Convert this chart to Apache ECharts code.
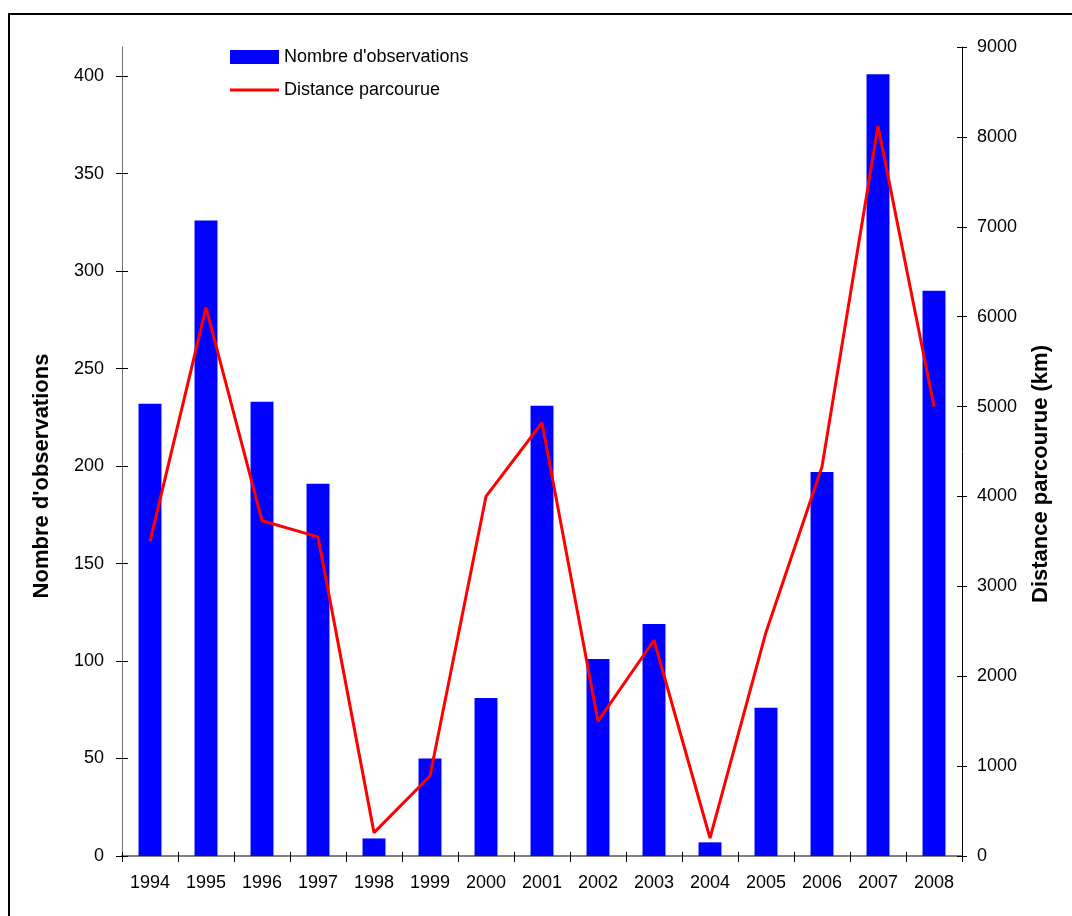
<!DOCTYPE html>
<html>
<head>
<meta charset="utf-8">
<script src="https://cdn.jsdelivr.net/npm/echarts@6/dist/echarts.min.js"></script>
<style>
  html, body { margin: 0; padding: 0; background: #fff; }
  #chart { width: 1072px; height: 916px; }
</style>
</head>
<body>
<div id="chart"></div>
<script>
// Yearly observations (bars, left axis) and distance travelled in km (line, right axis)
const years = ['1994', '1995', '1996', '1997', '1998', '1999', '2000', '2001',
               '2002', '2003', '2004', '2005', '2006', '2007', '2008'];
const observations = [232, 326, 233, 191, 9, 50, 81, 231, 101, 119, 7, 76, 197, 401, 290];
const distanceKm = [3500, 6100, 3730, 3550, 260, 890, 4000, 4820, 1500, 2400, 200, 2490, 4330, 8120, 5000];
const leftTicks = [0, 50, 100, 150, 200, 250, 300, 350, 400];

const FONT = '"Liberation Sans", Arial, sans-serif';
const chart = echarts.init(document.getElementById('chart'), null, { renderer: 'canvas' });

const leftMax = 415;
const rightMax = 9000;

chart.setOption({
  animation: false,
  backgroundColor: '#ffffff',
  textStyle: { fontFamily: FONT },
  grid: { left: 122, right: 110, top: 47, bottom: 60, containLabel: false },
  legend: {
    orient: 'vertical',
    left: 230,
    top: 48,
    padding: 0,
    itemWidth: 49,
    itemHeight: 14,
    itemGap: 15,
    textStyle: { fontFamily: FONT, fontSize: 18, color: '#000' },
    data: [
      { name: "Nombre d'observations", icon: 'rect' },
      // a plain 3px stroke for the line entry
      { name: 'Distance parcourue', icon: 'path://M0,0 H49 V3 H0 Z' }
    ]
  },
  xAxis: [
    {
      type: 'category',
      data: years,
      boundaryGap: true,
      axisLine: { lineStyle: { color: '#808080', width: 2 } },
      axisTick: { show: true, inside: false, length: 6, lineStyle: { color: '#000' } },
      axisLabel: { fontFamily: FONT, fontSize: 18, color: '#000', margin: 18, interval: 0 },
      splitLine: { show: false }
    },
    {
      // companion axis: the inner half of the crossing ticks
      type: 'category',
      data: years,
      position: 'bottom',
      boundaryGap: true,
      axisLine: { show: false },
      axisTick: { show: true, inside: true, length: 4, lineStyle: { color: '#000' } },
      axisLabel: { show: false },
      splitLine: { show: false }
    }
  ],
  yAxis: [
    {
      type: 'value',
      position: 'left',
      min: 0,
      max: leftMax,
      interval: 50,
      axisLine: { show: true, lineStyle: { color: '#707070', width: 1 } },
      axisTick: { show: true, length: 6, customValues: leftTicks, lineStyle: { color: '#000' } },
      axisLabel: { fontFamily: FONT, fontSize: 18, color: '#000', margin: 18, customValues: leftTicks },
      splitLine: { show: false }
    },
    {
      type: 'value',
      position: 'right',
      min: 0,
      max: rightMax,
      interval: 1000,
      axisLine: { show: true, lineStyle: { color: '#000', width: 1 } },
      axisTick: { show: true, length: 5, lineStyle: { color: '#000' } },
      axisLabel: {
        fontFamily: FONT, fontSize: 18, color: '#000', margin: 15,
        formatter: (v) => String(v)
      },
      splitLine: { show: false }
    },
    {
      type: 'value',
      position: 'left',
      min: 0,
      max: leftMax,
      interval: 50,
      axisLine: { show: false },
      axisTick: { show: true, inside: true, length: 6, customValues: leftTicks, lineStyle: { color: '#000' } },
      axisLabel: { show: false },
      splitLine: { show: false }
    },
    {
      type: 'value',
      position: 'right',
      min: 0,
      max: rightMax,
      interval: 1000,
      axisLine: { show: false },
      axisTick: { show: true, inside: true, length: 5, lineStyle: { color: '#000' } },
      axisLabel: { show: false },
      splitLine: { show: false }
    }
  ],
  series: [
    {
      name: "Nombre d'observations",
      type: 'bar',
      xAxisIndex: 0,
      yAxisIndex: 0,
      data: observations,
      barWidth: '41%',
      itemStyle: { color: '#0000ff' },
      z: 2
    },
    {
      name: 'Distance parcourue',
      type: 'line',
      xAxisIndex: 0,
      yAxisIndex: 1,
      data: distanceKm,
      symbol: 'none',
      lineStyle: { color: '#ff0000', width: 3 },
      itemStyle: { color: '#ff0000' },
      z: 3
    }
  ],
  graphic: [
    {
      type: 'rect',
      shape: { x: 9, y: 14, width: 1200, height: 1000 },
      style: { fill: null, stroke: '#000', lineWidth: 2 },
      silent: true,
      z: 0
    },
    {
      type: 'text',
      x: 42,
      y: 476,
      rotation: Math.PI / 2,
      style: {
        text: "Nombre d'observations",
        x: 0, y: 0,
        align: 'center',
        verticalAlign: 'middle',
        font: 'bold 22px ' + FONT,
        fill: '#000'
      }
    },
    {
      type: 'text',
      x: 1041,
      y: 474,
      rotation: Math.PI / 2,
      style: {
        text: 'Distance parcourue (km)',
        x: 0, y: 0,
        align: 'center',
        verticalAlign: 'middle',
        font: 'bold 22px ' + FONT,
        fill: '#000'
      }
    }
  ]
});
</script>
</body>
</html>
